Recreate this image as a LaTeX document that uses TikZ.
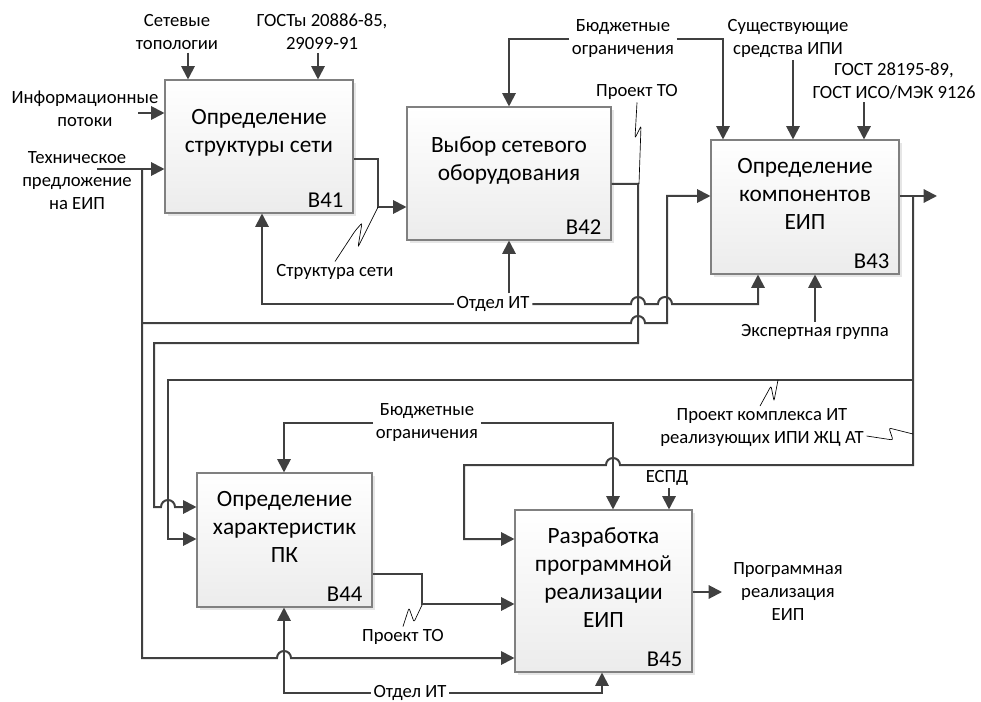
\documentclass[tikz,border=0pt]{standalone}
\usepackage{fontspec}
\setmainfont{Carlito}
\usepackage{tikz}
\usetikzlibrary{arrows.meta,positioning,shadows}
\definecolor{linegray}{HTML}{404040}
\definecolor{boxgray}{HTML}{808080}
\tikzstyle{func} = [rectangle, draw=boxgray, line width=0.8pt, top color=white,
    bottom color=gray!15, drop shadow={shadow xshift=2pt, shadow yshift=-2pt, opacity=0.2}]
\tikzstyle{functitle} = [align=center, font=\fontsize{17.5}{21}\selectfont]
\tikzstyle{num} = [inner sep=0pt, font=\fontsize{17}{20}\selectfont]
\tikzstyle{lbl} = [align=center, inner sep=2pt, font=\fontsize{14}{17.25}\selectfont]
\tikzstyle{flow} = [draw=linegray, line width=1.5pt]
\tikzstyle{arr} = [flow, -{Triangle[length=10pt,width=10pt]}]
\tikzstyle{squig} = [draw=black, line width=0.5pt, rounded corners=1.5pt]

\begin{document}
\begin{tikzpicture}[x=0.75pt, y=-0.75pt]
  \useasboundingbox (0,0) rectangle (981,702);
   % Place blocks
    \node [func, minimum width=141pt, minimum height=99.75pt] (b41) at (259,146.5) {};
    \node [func, minimum width=153pt, minimum height=99.75pt] (b42) at (509,173.5) {};
    \node [func, minimum width=141pt, minimum height=100.5pt] (b43) at (805,207) {};
    \node [func, minimum width=131.25pt, minimum height=100.5pt] (b44) at (284.5,540) {};
    \node [func, minimum width=132.75pt, minimum height=121.5pt] (b45) at (603.5,591) {};
    \node [functitle, yshift=10pt] (t41) at (b41) {Определение\\структуры сети};
    \node [functitle, yshift=10pt] (t42) at (b42) {Выбор сетевого\\оборудования};
    \node [functitle, yshift=10pt] (t43) at (b43) {Определение\\компонентов\\ЕИП};
    \node [functitle, yshift=10pt] (t44) at (b44) {Определение\\характеристик\\ПК};
    \node [functitle, yshift=10pt] (t45) at (b45) {Разработка\\программной\\реализации\\ЕИП};
    \node [num, above left=4.5pt and 7.5pt of b41.south east] (n41) {В41};
    \node [num, above left=4.5pt and 7.5pt of b42.south east] (n42) {В42};
    \node [num, above left=4.5pt and 7.5pt of b43.south east] (n43) {В43};
    \node [num, above left=4.5pt and 7.5pt of b44.south east] (n44) {В44};
    \node [num, above left=4.5pt and 7.5pt of b45.south east] (n45) {В45};
   % Place labels
    \node [lbl] (net) at (177,32) {Сетевые\\топологии};
    \node [lbl] (gost1) at (322,32) {ГОСТы 20886-85,\\29099-91};
    \node [lbl] (info) at (85,109) {Информационные\\потоки};
    \node [lbl] (tech) at (77,181) {Техническое\\предложение\\на ЕИП};
    \node [lbl] (struct) at (335,272) {Структура сети};
    \node [lbl] (budget1) at (623,39) {Бюджетные\\ограничения};
    \node [lbl] (tools) at (788,38) {Существующие\\средства ИПИ};
    \node [lbl] (gost2) at (894,81) {ГОСТ 28195-89,\\ГОСТ ИСО/МЭК 9126};
    \node [lbl] (proj1) at (637,92) {Проект ТО};
    \node [lbl] (dept1) at (493,304) {Отдел ИТ};
    \node [lbl] (expert) at (815,332) {Экспертная группа};
    \node [lbl] (projc) at (762,428) {Проект комплекса ИТ\\реализующих ИПИ ЖЦ АТ};
    \node [lbl] (budget2) at (427,423) {Бюджетные\\ограничения};
    \node [lbl] (espd) at (667,478) {ЕСПД};
    \node [lbl] (proj2) at (403,637) {Проект ТО};
    \node [lbl] (dept2) at (410,693) {Отдел ИТ};
    \node [lbl] (out) at (788,592) {Программная\\реализация\\ЕИП};
   % Draw edges
    \draw [arr] (138,113) -- (b41.west |- 0,113);
    \draw [arr] (97,169) -- (b41.west |- 0,169);
    \draw [arr] (142,169) -- (142,658) -- (277,658) arc[start angle=180, end angle=360, radius=7]
      -- (b45.west |- 0,658);
    \draw [arr] (142,323) -- (631,323) arc[start angle=180, end angle=360, radius=7]
      -- (667,323) -- (667,196) -- (b43.west |- 0,196);
    \draw [arr] (net.south -| 188,0) -- (b41.north -| 188,0);
    \draw [arr] (gost1.south -| 318,0) -- (b41.north -| 318,0);
    \draw [arr] (b41.east |- 0,159) -| (378,207) -- (b42.west |- 0,207);
    \draw [arr] (dept1.west) -| (b41.south -| 262,0);
    \draw [arr] (dept1.east) -- (631,304) arc[start angle=180, end angle=360, radius=7]
      -- (658,304) arc[start angle=180, end angle=360, radius=7] -- (758,304) -- (b43.south -| 758,0);
    \draw [arr] (dept1.north -| 509,0) -- (b42.south -| 509,0);
    \draw [arr] (budget1.west) -| (b42.north -| 509,0);
    \draw [arr] (budget1.east) -| (b43.north -| 723,0);
    \draw [arr] (tools.south -| 793,0) -- (b43.north -| 793,0);
    \draw [arr] (gost2.south -| 864,0) -- (b43.north -| 864,0);
    \draw [arr] (b42.east |- 0,184) -- (638,184) -- (638,343) -- (154,343) -- (154,507)
      -- (161,507) arc[start angle=180, end angle=360, radius=7] -- (b44.west |- 0,507);
    \draw [arr] (b43.east |- 0,196) -- (937,196);
    \draw [arr] (913,196) -- (913,465) -- (620,465) arc[start angle=0, end angle=-180, radius=7]
      -- (464,465) -- (464,539) -- (b45.west |- 0,539);
    \draw [arr] (913,380) -- (168,380) -- (168,539) -- (b44.west |- 0,539);
    \draw [arr] (expert.north -| 815,0) -- (b43.south -| 815,0);
    \draw [arr] (budget2.west) -| (b44.north -| 284,0);
    \draw [arr] (budget2.east) -| (b45.north -| 613,0);
    \draw [arr] (espd.south -| 669,0) -- (b45.north -| 669,0);
    \draw [arr] (b44.east |- 0,574) -| (422,604) -- (b45.west |- 0,604);
    \draw [arr] (dept2.west) -| (b44.south -| 284,0);
    \draw [arr] (dept2.east) -| (b45.south -| 602,0);
    \draw [arr] (b45.east |- 0,592) -- (722,592);
   % Squiggles
    \draw [squig] (struct.north -| 335,0) -- (355,231) -- (362,223) -- (358,247) -- (378,207);
    \draw [squig] (proj1.south) -- (635,138) -- (641,126) -- (639,184);
    \draw [squig] (projc.north -| 760,0) -- (771,386) -- (774,401) -- (778,380);
    \draw [squig] (projc.east |- 0,436) -- (893,440) -- (889,428) -- (913,434);
    \draw [squig] (proj2.north -| 403,0) -- (409,608) -- (414,622) -- (422,605);
\end{tikzpicture}
\end{document}
